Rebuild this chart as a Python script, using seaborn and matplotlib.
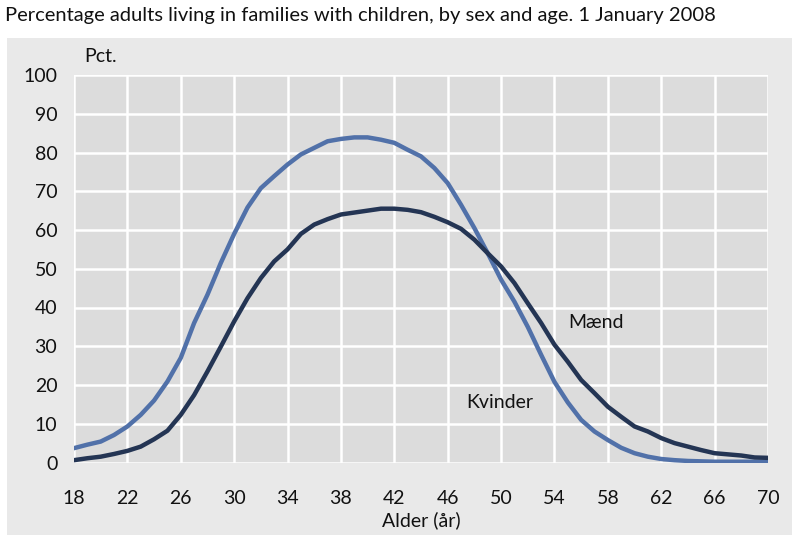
import matplotlib
matplotlib.use("Agg")
import matplotlib.pyplot as plt
import seaborn as sns
import pandas as pd

# ages 18..70
ages = list(range(18, 71))

kvinder = [3.7, 4.6, 5.4, 7.1, 9.3, 12.3, 16.0, 20.9, 27.0, 36.0,
           43.3, 51.5, 59.0, 65.8, 70.8, 73.9, 76.9, 79.5, 81.2, 82.9,
           83.5, 83.9, 83.9, 83.3, 82.5, 80.7, 79.0, 76.0, 72.1, 66.5,
           60.5, 54.0, 47.2, 41.5, 35.0, 27.8, 20.8, 15.5, 11.0, 8.0,
           5.8, 3.8, 2.4, 1.5, 0.9, 0.6, 0.4, 0.3, 0.2, 0.2,
           0.2, 0.2, 0.2]

maend = [0.6, 1.1, 1.5, 2.2, 3.0, 4.1, 6.0, 8.2, 12.3, 17.4,
         23.5, 29.9, 36.4, 42.4, 47.6, 51.9, 55.0, 59.0, 61.4, 62.8,
         64.0, 64.5, 65.0, 65.5, 65.5, 65.2, 64.6, 63.4, 62.0, 60.3,
         57.5, 54.0, 50.6, 46.3, 41.1, 36.0, 30.4, 26.0, 21.3, 17.9,
         14.4, 11.8, 9.3, 8.0, 6.3, 5.0, 4.1, 3.2, 2.4, 2.1,
         1.8, 1.3, 1.2]

df = pd.DataFrame({
    'Alder': ages * 2,
    'Pct': kvinder + maend,
    'Koen': ['Kvinder'] * len(ages) + ['Mænd'] * len(ages),
})

sns.set_style("white")
plt.rcParams['font.family'] = ['Lato', 'DejaVu Sans']

fig = plt.figure(figsize=(7.95, 5.35), dpi=100)
bg = fig.add_axes([7 / 795, 0, 785 / 795, 497 / 535], zorder=-1)
bg.set_facecolor('#e9e9e9')
bg.set_xticks([])
bg.set_yticks([])
for s in bg.spines.values():
    s.set_visible(False)

ax = fig.add_axes([74 / 795, 1 - 462.5 / 535, 694 / 795, 387.5 / 535])
ax.set_facecolor('#dcdcdc')

sns.lineplot(data=df, x='Alder', y='Pct', hue='Koen',
             palette={'Kvinder': '#5171a9', 'Mænd': '#243554'},
             linewidth=3.2, legend=False, ax=ax)

ax.set_xlim(18, 70)
ax.set_ylim(0, 100)
ax.set_xticks(range(18, 71, 4))
ax.set_yticks(range(0, 101, 10))
ax.grid(True, color='white', linewidth=1.8)
ax.set_axisbelow(True)
for s in ax.spines.values():
    s.set_visible(False)
ax.tick_params(length=0, labelsize=14, labelcolor='#111111')
ax.tick_params(axis='y', pad=12)
ax.tick_params(axis='x', pad=20)
ax.set_xlabel('Alder (år)', fontsize=14, labelpad=3, color='#111111')
ax.set_ylabel('')

ax.text(57.1, 36, 'Mænd', fontsize=14, ha='center', va='center', color='#111111')
ax.text(49.9, 15.5, 'Kvinder', fontsize=14, ha='center', va='center', color='#111111')

fig.text(84 / 795, 1 - 57 / 535, 'Pct.', fontsize=14, ha='left', va='center', color='#111111')
fig.text(5 / 795, 1 - 15 / 535,
         'Percentage adults living in families with children, by sex and age. 1 January 2008',
         fontsize=14.5, ha='left', va='center', color='#111111')

fig.savefig('out.png', dpi=100)
